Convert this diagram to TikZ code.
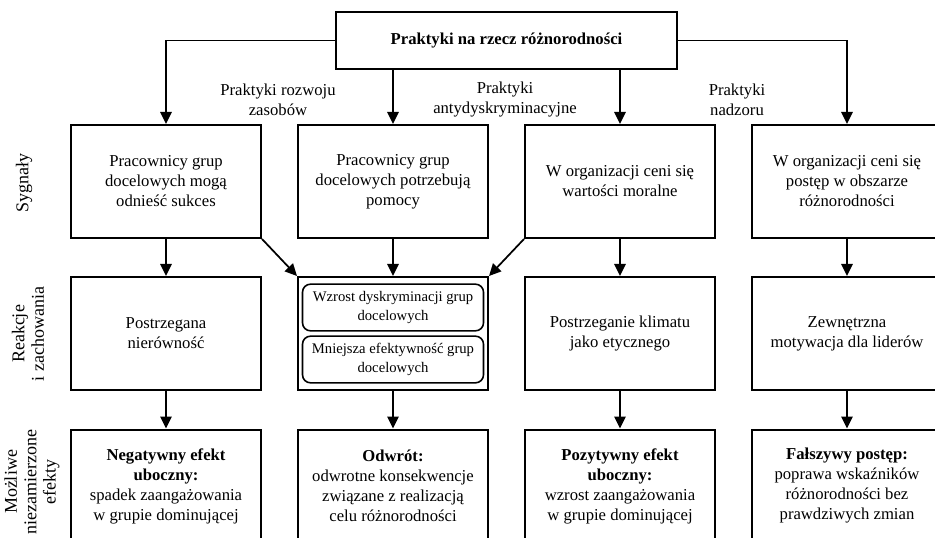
\documentclass[tikz,border=0pt]{standalone}
\usepackage{fontspec}
\setmainfont{Liberation Serif}
\usetikzlibrary{arrows.meta}
\tikzset{
  box/.style={draw, line width=1.5pt, minimum width=142.5pt, minimum height=84.75pt,
    align=center, inner sep=2pt, font=\fontsize{12.5}{15}\selectfont},
  topbox/.style={draw, line width=1.5pt, minimum width=255.75pt, minimum height=42.75pt,
    align=center, font=\fontsize{12.5}{15}\selectfont\bfseries},
  innerbox/.style={draw, line width=1.2pt, rounded corners=6pt, minimum width=135.75pt,
    minimum height=35pt, align=center, inner sep=1pt, font=\fontsize{11}{14}\selectfont},
  lbl/.style={align=center, font=\fontsize{12.5}{15}\selectfont},
  side/.style={align=center, rotate=90, font=\fontsize{13.5}{14.5}\selectfont},
  arr/.style={line width=1.3pt, -{Triangle[width=8.5pt,length=9pt]}},
}
\begin{document}
\begin{tikzpicture}[x=0.75pt, y=-0.75pt]
\clip (0,0) rectangle (935,538);
\fill[white] (0,0) rectangle (935,538);

\node[topbox] (top) at (506.5,40.5) {Praktyki na rzecz różnorodności};

\node[box] (b1) at (166,181.5) {Pracownicy grup\\docelowych mogą\\odnieść sukces};
\node[box] (b2) at (393,181.5) {Pracownicy grup\\docelowych potrzebują\\pomocy};
\node[box] (b3) at (620,181.5) {W organizacji ceni się\\wartości moralne};
\node[box] (b4) at (847,181.5) {W organizacji ceni się\\postęp w obszarze\\różnorodności};

\node[box] (r1) at (166,333.5) {Postrzegana\\nierówność};
\node[box] (r2) at (393,333.5) {};
\node[innerbox] (r2a) at (393,307.5) {Wzrost dyskryminacji grup\\docelowych};
\node[innerbox] (r2b) at (393,359.5) {Mniejsza efektywność grup\\docelowych};
\node[box] (r3) at (620,333.5) {Postrzeganie klimatu\\jako etycznego};
\node[box] (r4) at (847,333.5) {Zewnętrzna\\motywacja dla liderów};

\node[box] (e1) at (166,486) {\textbf{Negatywny efekt}\\\textbf{uboczny:}\\spadek zaangażowania\\w grupie dominującej};
\node[box] (e2) at (393,486) {\textbf{Odwrót:}\\odwrotne konsekwencje\\związane z realizacją\\celu różnorodności};
\node[box] (e3) at (620,486) {\textbf{Pozytywny efekt}\\\textbf{uboczny:}\\wzrost zaangażowania\\w grupie dominującej};
\node[box] (e4) at (847,486) {\textbf{Fałszywy postęp:}\\poprawa wskaźników\\różnorodności bez\\prawdziwych zmian};

\node[lbl] (l1) at (278,99.5) {Praktyki rozwoju\\zasobów};
\node[lbl] (l2) at (505,99.5) {Praktyki\\antydyskryminacyjne};
\node[lbl] (l3) at (737,99.5) {Praktyki\\nadzoru};

\node[side] (s1) at (24,183) {Sygnały};
\node[side] (s2) at (28,334) {Reakcje\\i zachowania};
\node[side] (s3) at (32,482) {Możliwe\\niezamierzone\\efekty};

\draw[arr] (top.west) -| (b1.north);
\draw[arr] (b2.north |- top.south) -- (b2.north);
\draw[arr] (b3.north |- top.south) -- (b3.north);
\draw[arr] (top.east) -| (b4.north);

\draw[arr] (b1.south) -- (r1.north);
\draw[arr] (b2.south) -- (r2.north);
\draw[arr] (b3.south) -- (r3.north);
\draw[arr] (b4.south) -- (r4.north);
\draw[arr] (b1.south east) -- (r2.north west);
\draw[arr] (b3.south west) -- (r2.north east);

\draw[arr] (r1.south) -- (e1.north);
\draw[arr] (r2.south) -- (e2.north);
\draw[arr] (r3.south) -- (e3.north);
\draw[arr] (r4.south) -- (e4.north);
\end{tikzpicture}
\end{document}
